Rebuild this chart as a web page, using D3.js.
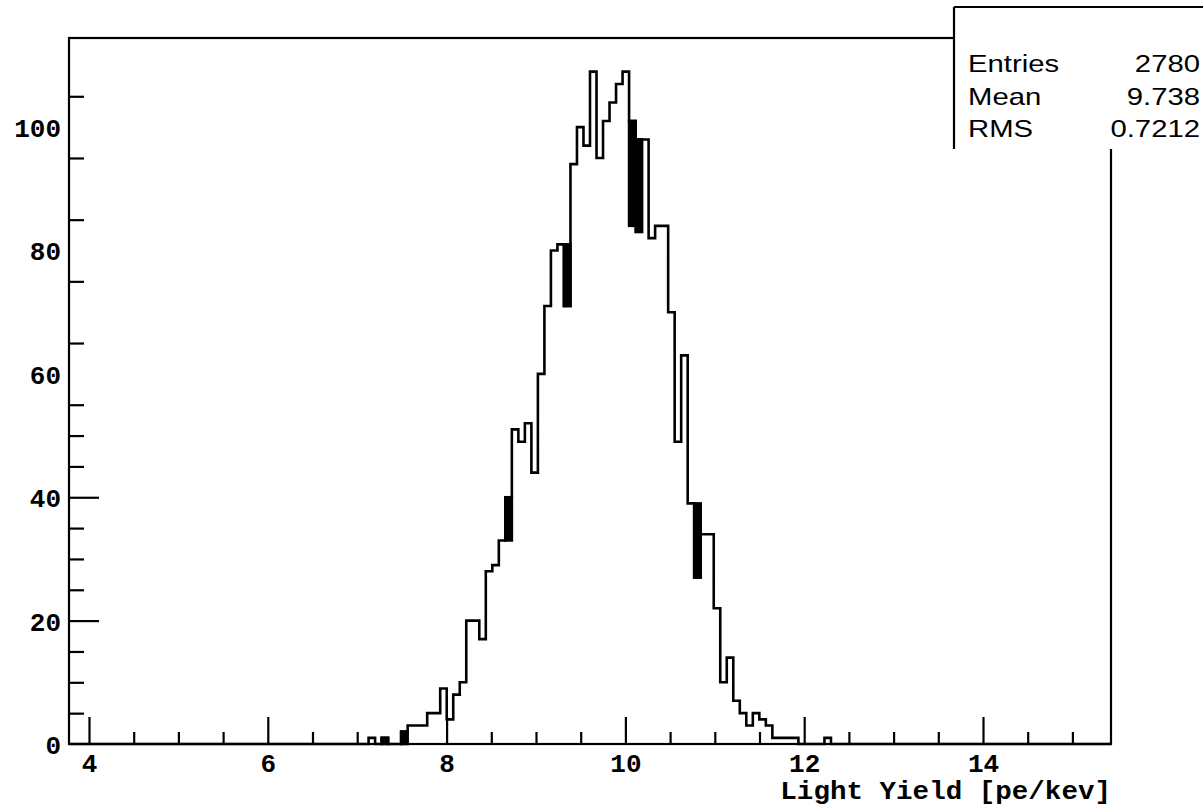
<!DOCTYPE html>
<html>
<head>
<meta charset="utf-8">
<script src="https://cdn.jsdelivr.net/npm/d3@7"></script>
<style>
  html, body { margin: 0; padding: 0; background: #fff; }
  svg { display: block; }
</style>
</head>
<body>
<svg id="chart" width="1203" height="810"></svg>
<script>
// ---- histogram definition: 160 equal bins over the plotted range ----
const histMin = 3.7763;
const histMax = 15.4318;
const nBins = 160;
const firstBin = 46;            // index of the first listed bin
const counts = [
  1, 0, 1, 0, 0, 2, 3, 3, 3, 5,
  5, 9, 4, 8, 10, 20, 20, 17, 28, 29,
  33, 40, 51, 49, 52, 44, 60, 71, 80, 81,
  71, 94, 100, 97, 109, 95, 101, 104, 107, 109,
  101, 98, 98, 82, 84, 84, 70, 49, 63, 39,
  27, 34, 34, 22, 10, 14, 7, 5, 3, 5,
  4, 3, 1, 1, 1, 1, 0, 0, 0, 0,
  1
];
// bins whose column is drawn solid between two count levels
const darkBins = [
  { bin: 48, lo: 0,  hi: 1 },
  { bin: 51, lo: 0,  hi: 2 },
  { bin: 67, lo: 33, hi: 40 },
  { bin: 76, lo: 71, hi: 81 },
  { bin: 86, lo: 84, hi: 101 },
  { bin: 87, lo: 83, hi: 98 },
  { bin: 96, lo: 27, hi: 39 }
];

// ---- axes ----
const yMax = 114.45;
const xMajorTicks = [4, 6, 8, 10, 12, 14];
const xMajorLabels = ["4", "6", "8", "10", "12", "14"];
const xMinorTicks = [4.5, 5, 5.5, 6.5, 7, 7.5, 8.5, 9, 9.5, 10.5, 11, 11.5, 12.5, 13, 13.5, 14.5, 15];
const yLabelTicks = [0, 20, 40, 60, 80, 100];
const yLabels = ["0", "20", "40", "60", "80", "100"];
const yLongTicks = [20, 40];
const yShortTicks = [5, 10, 15, 25, 30, 35, 45, 50, 55, 65, 75, 85, 95, 105];
const xTitle = "Light Yield [pe/kev]";

// ---- statistics box ----
const statNames = ["Entries", "Mean", "RMS"];
const statValues = ["2780", "9.738", "0.7212"];

// ---- layout ----
const frame = { left: 69, right: 1111, top: 38, bottom: 744 };
const monoFont = "'Liberation Mono', 'DejaVu Sans Mono', monospace";
const sansFont = "'Liberation Sans', Arial, Helvetica, sans-serif";
const lineWidth = 2.6;

const svg = d3.select("#chart");
svg.append("rect").attr("width", 1203).attr("height", 810).attr("fill", "#fff");

const x = d3.scaleLinear().domain([histMin, histMax]).range([frame.left, frame.right]);
const y = d3.scaleLinear().domain([0, yMax]).range([frame.bottom, frame.top]);

const binWidth = (histMax - histMin) / nBins;
const allCounts = d3.range(nBins).map(k => {
  const i = k - firstBin;
  return (i >= 0 && i < counts.length) ? counts[i] : 0;
});

// frame
svg.append("rect")
  .attr("x", frame.left).attr("y", frame.top)
  .attr("width", frame.right - frame.left).attr("height", frame.bottom - frame.top)
  .attr("fill", "none").attr("stroke", "#000").attr("stroke-width", 2.2);

// solid columns (outlined with the histogram's own line width)
svg.append("g").selectAll("rect").data(darkBins).join("rect")
  .attr("x", d => x(histMin + d.bin * binWidth))
  .attr("width", d => x(histMin + (d.bin + 1) * binWidth) - x(histMin + d.bin * binWidth))
  .attr("y", d => y(d.hi))
  .attr("height", d => y(d.lo) - y(d.hi))
  .attr("fill", "#000")
  .attr("stroke", "#000")
  .attr("stroke-width", lineWidth);

// histogram outline
const stepPoints = [];
allCounts.forEach((c, k) => {
  const x0 = histMin + k * binWidth;
  stepPoints.push([x0, c], [x0 + binWidth, c]);
});
svg.append("path")
  .datum(stepPoints)
  .attr("d", d3.line().x(d => x(d[0])).y(d => y(d[1])))
  .attr("fill", "none")
  .attr("stroke", "#000")
  .attr("stroke-width", lineWidth)
  .attr("stroke-linejoin", "miter");

// x axis: minor ticks, major ticks with labels
const gx = svg.append("g").attr("transform", `translate(0,${frame.bottom})`);
gx.append("g").call(d3.axisBottom(x).tickValues(xMinorTicks).tickSize(-12).tickSizeOuter(0).tickFormat(""));
gx.append("g").call(d3.axisBottom(x).tickValues(xMajorTicks).tickSize(-27).tickSizeOuter(0)
  .tickFormat((d, i) => xMajorLabels[i]).tickPadding(12));
gx.selectAll(".domain").remove();
gx.selectAll("line").attr("stroke", "#000").attr("stroke-width", 2.2);
gx.selectAll("text")
  .attr("font-family", monoFont).attr("font-weight", "bold").attr("font-size", 26)
  .attr("fill", "#000").attr("dy", "0.62em");

// y axis: labels, long ticks, short ticks
const gy = svg.append("g").attr("transform", `translate(${frame.left},0)`);
gy.append("g").call(d3.axisLeft(y).tickValues(yLabelTicks).tickSize(0).tickPadding(8)
  .tickFormat((d, i) => yLabels[i]));
gy.append("g").call(d3.axisLeft(y).tickValues(yLongTicks).tickSize(-30).tickSizeOuter(0).tickFormat(""));
gy.append("g").call(d3.axisLeft(y).tickValues(yShortTicks).tickSize(-15).tickSizeOuter(0).tickFormat(""));
gy.selectAll(".domain").remove();
gy.selectAll("line").attr("stroke", "#000").attr("stroke-width", 2.2);
gy.selectAll("text")
  .attr("font-family", monoFont).attr("font-weight", "bold").attr("font-size", 26)
  .attr("fill", "#000").attr("dy", "0.36em");

// x axis title
svg.append("text")
  .attr("transform", `translate(${frame.right},799) scale(1.06,1)`)
  .attr("text-anchor", "end")
  .attr("font-family", monoFont).attr("font-weight", "bold").attr("font-size", 26)
  .attr("fill", "#000")
  .text(xTitle);

// statistics box
const box = { left: 954, top: 7, bottom: 149 };
svg.append("rect")
  .attr("x", box.left).attr("y", box.top)
  .attr("width", 1203 - box.left + 10).attr("height", box.bottom - box.top)
  .attr("fill", "#fff");
svg.append("line")
  .attr("x1", box.left).attr("x2", box.left).attr("y1", box.top).attr("y2", box.bottom)
  .attr("stroke", "#000").attr("stroke-width", 2.2);
svg.append("line")
  .attr("x1", box.left).attr("x2", 1210).attr("y1", box.top).attr("y2", box.top)
  .attr("stroke", "#000").attr("stroke-width", 2.2);

const rowY = d3.scalePoint().domain(statNames).range([72, 137]);
const statG = svg.append("g")
  .attr("font-family", sansFont).attr("font-size", 24).attr("fill", "#000");
statG.selectAll("text.name").data(statNames).join("text")
  .attr("class", "name")
  .attr("transform", d => `translate(968,${rowY(d)}) scale(1.22,1)`)
  .text(d => d);
statG.selectAll("text.value").data(statValues).join("text")
  .attr("class", "value")
  .attr("text-anchor", "end")
  .attr("transform", (d, i) => `translate(1200,${rowY(statNames[i])}) scale(1.22,1)`)
  .text(d => d);
</script>
</body>
</html>
